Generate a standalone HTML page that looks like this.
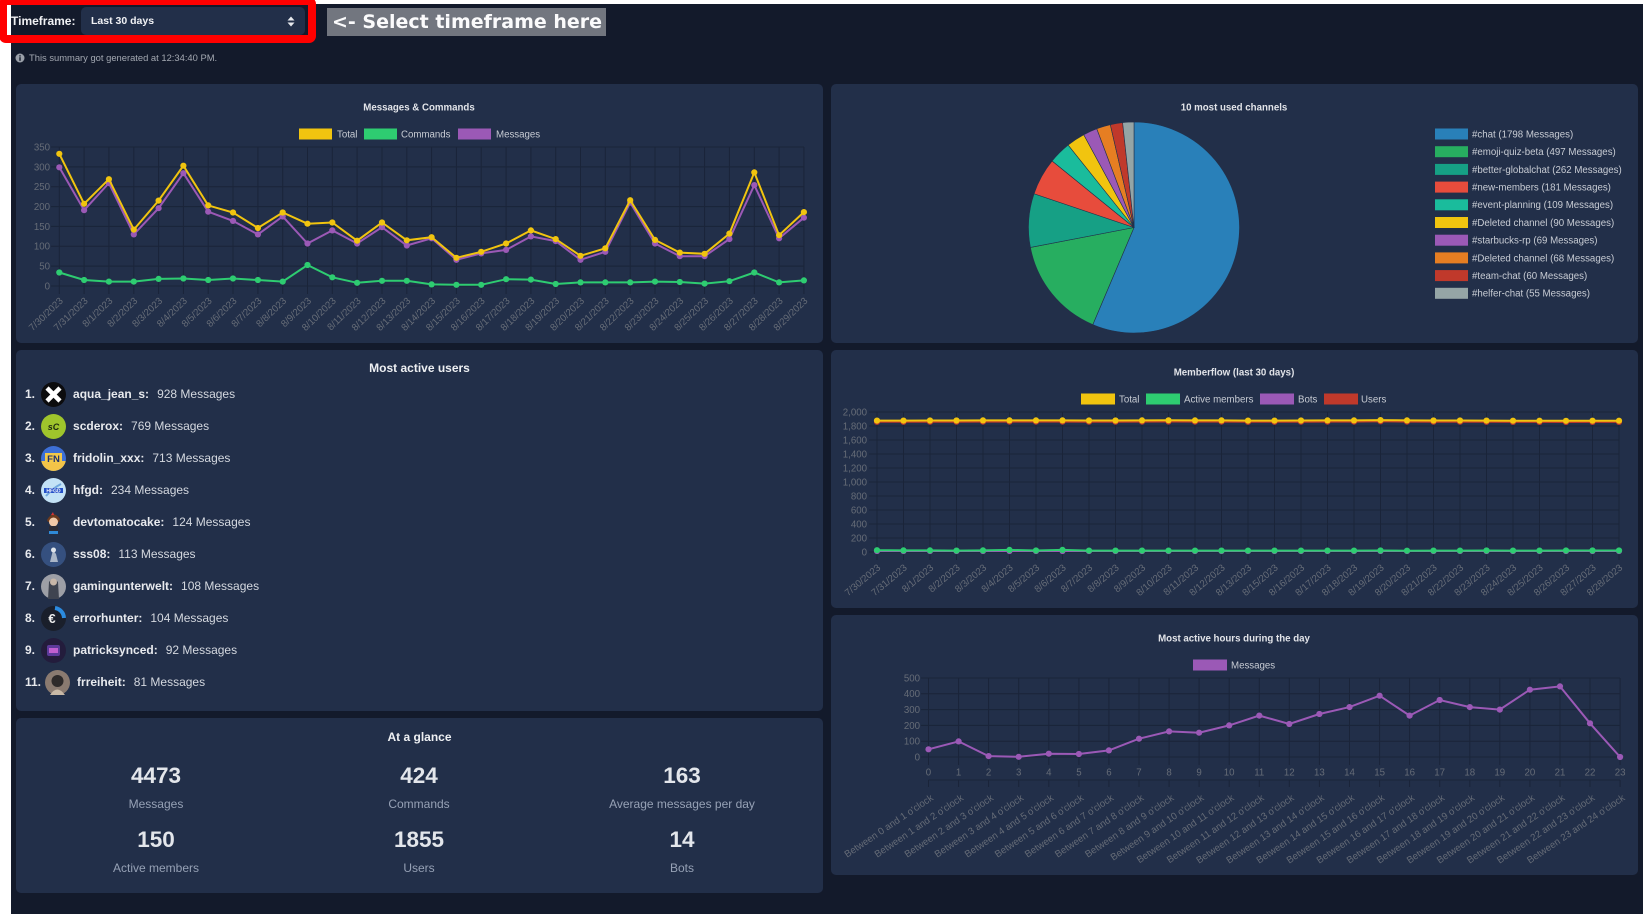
<!DOCTYPE html>
<html><head><meta charset="utf-8">
<style>
*{margin:0;padding:0;box-sizing:border-box}
html,body{width:1643px;height:914px;overflow:hidden;background:#fff;font-family:"Liberation Sans",Arial,sans-serif}
.bg{position:absolute;left:11px;top:4px;width:1632px;height:910px;background:#131a2b}
.panel{position:absolute;background:#222f49;border-radius:5px}
.abs{position:absolute}
.row{position:absolute;left:25px;height:26px;display:flex;align-items:center;font-size:12px;color:#e8eaee;white-space:nowrap}
.row b{font-weight:bold}
.row .rk{margin-right:6px}
.row svg{margin-right:7px;flex:none}
.row .ct{margin-left:8px;color:#d4d8df}
.gn{position:absolute;width:263px;text-align:center;font-weight:bold;font-size:22.5px;color:#e3e6eb}
.gl{position:absolute;width:263px;text-align:center;font-size:12px;color:#96a1b5}
</style></head><body>
<div class="bg"></div>

<!-- top bar -->
<div class="abs" style="left:11px;top:13px;font-size:12px;font-weight:bold;color:#f0f1f4;line-height:16px">Timeframe:</div>
<div class="abs" style="left:81px;top:7px;width:224px;height:28px;background:#222f49;border-radius:5px"></div>
<div class="abs" style="left:91px;top:14px;font-size:10.5px;font-weight:bold;color:#f0f1f4;line-height:14px">Last 30 days</div>
<svg class="abs" style="left:286px;top:15px" width="10" height="13"><path d="M1.5 5.5L5 1.5L8.5 5.5Z M1.5 7.5L5 11.5L8.5 7.5Z" fill="#e8eaee"/></svg>
<div class="abs" style="left:-1px;top:-3px;width:317px;height:46px;border:8px solid #ff0000;border-radius:7px"></div>
<div class="abs" style="left:327px;top:8px;width:279px;height:28px;background:#72767f"></div>
<div class="abs" style="left:332px;top:9px;font-family:'DejaVu Sans',sans-serif;font-weight:bold;font-size:19px;line-height:26px;color:#fbfbfc;white-space:nowrap">&lt;- Select timeframe here</div>
<svg class="abs" style="left:15px;top:53px" width="10" height="10"><circle cx="5" cy="5" r="4.5" fill="#9aa0a9"/><rect x="4.3" y="4.2" width="1.4" height="3.6" fill="#131a2b"/><rect x="4.3" y="2.2" width="1.4" height="1.3" fill="#131a2b"/></svg>
<div class="abs" style="left:29px;top:52px;font-size:9.4px;color:#a3a8b1;line-height:12px;white-space:nowrap">This summary got generated at 12:34:40 PM.</div>

<!-- panels -->
<div class="panel" style="left:16px;top:84px;width:807px;height:259px"></div>
<div class="panel" style="left:831px;top:84px;width:807px;height:259px"></div>
<div class="panel" style="left:16px;top:350px;width:807px;height:361px"></div>
<div class="panel" style="left:831px;top:350px;width:807px;height:258px"></div>
<div class="panel" style="left:831px;top:615px;width:807px;height:260px"></div>
<div class="panel" style="left:16px;top:718px;width:807px;height:175px"></div>

<!-- users -->
<div class="abs" style="left:16px;width:807px;top:361px;text-align:center;font-size:12px;font-weight:bold;color:#eef0f3">Most active users</div>

<div class="row" style="top:381px"><b class="rk">1.</b><svg width="25" height="25"><circle cx="12.5" cy="12.5" r="12.5" fill="#0c0c0e"/><path d="M6 6L19 19M19 6L6 19" stroke="#fff" stroke-width="4.5"/></svg><b>aqua_jean_s:</b><span class="ct">928 Messages</span></div>
<div class="row" style="top:413px"><b class="rk">2.</b><svg width="25" height="25"><circle cx="12.5" cy="12.5" r="12.5" fill="#9fc52c"/><text x="12.5" y="16" text-anchor="middle" font-size="9" font-weight="bold" font-style="italic" fill="#1d2a10">sC</text></svg><b>scderox:</b><span class="ct">769 Messages</span></div>
<div class="row" style="top:445px"><b class="rk">3.</b><svg width="25" height="25"><clipPath id="c3"><circle cx="12.5" cy="12.5" r="12.5"/></clipPath><g clip-path="url(#c3)"><rect width="25" height="25" fill="#3d6fd6"/><rect y="15" width="25" height="10" fill="#f3c448"/><rect x="4" y="7" width="17" height="10" fill="#f2c84a"/></g><text x="12.5" y="16" text-anchor="middle" font-size="9.5" font-weight="bold" fill="#1f3070">FN</text></svg><b>fridolin_xxx:</b><span class="ct">713 Messages</span></div>
<div class="row" style="top:477px"><b class="rk">4.</b><svg width="25" height="25"><circle cx="12.5" cy="12.5" r="12.5" fill="#c3e2f6"/><path d="M5 18Q12 10 20 6" stroke="#6fa7dd" stroke-width="2" fill="none"/><rect x="3" y="10" width="19" height="5" fill="#2350c8"/><text x="12.5" y="14.3" text-anchor="middle" font-size="5" font-weight="bold" fill="#fff">HFGD</text></svg><b>hfgd:</b><span class="ct">234 Messages</span></div>
<div class="row" style="top:509px"><b class="rk">5.</b><svg width="25" height="25"><path d="M6 10Q12 -1 19 9L18 12L7 12Z" fill="#6b3a1e"/><circle cx="12.5" cy="12" r="4.5" fill="#f1c9a8"/><path d="M8 16H17V21H8Z" fill="#2b2b35"/><path d="M8 21H17V24H8Z" fill="#2f8ad8"/><path d="M10 5L12 2L13 5Z" fill="#d33"/></svg><b>devtomatocake:</b><span class="ct">124 Messages</span></div>
<div class="row" style="top:541px"><b class="rk">6.</b><svg width="25" height="25"><circle cx="12.5" cy="12.5" r="12.5" fill="#35507f"/><path d="M9 20L12 8L15 12L17 20Z" fill="#aab6c8"/><circle cx="12.5" cy="8" r="2.5" fill="#dfe4ea"/></svg><b>sss08:</b><span class="ct">113 Messages</span></div>
<div class="row" style="top:573px"><b class="rk">7.</b><svg width="25" height="25"><circle cx="12.5" cy="12.5" r="12.5" fill="#9d9fa6"/><path d="M7 25L8 8Q12 3 17 8L18 25Z" fill="#3f4450"/><circle cx="12.5" cy="8" r="3.5" fill="#c8b7a8"/></svg><b>gamingunterwelt:</b><span class="ct">108 Messages</span></div>
<div class="row" style="top:605px"><b class="rk">8.</b><svg width="25" height="25"><circle cx="12.5" cy="12.5" r="12.5" fill="#1a1f2b"/><path d="M14 2A10.5 10.5 0 0 1 23 12" stroke="#2b8be0" stroke-width="4" fill="none"/><text x="11" y="17" text-anchor="middle" font-size="13" font-weight="bold" fill="#eee">€</text></svg><b>errorhunter:</b><span class="ct">104 Messages</span></div>
<div class="row" style="top:637px"><b class="rk">9.</b><svg width="25" height="25"><circle cx="12.5" cy="12.5" r="12.5" fill="#231c3c"/><rect x="6" y="7" width="13" height="11" rx="2" fill="#5c3a9a"/><rect x="8" y="10" width="9" height="5" fill="#c15fd0"/></svg><b>patricksynced:</b><span class="ct">92 Messages</span></div>
<div class="row" style="top:669px"><b class="rk" style="margin-right:4px">11.</b><svg width="25" height="25"><circle cx="12.5" cy="12.5" r="12.5" fill="#8a7a70"/><circle cx="12.5" cy="11" r="6" fill="#2e2a2a"/><path d="M5 25Q12 14 20 25Z" fill="#c9b9a6"/></svg><b>frreiheit:</b><span class="ct">81 Messages</span></div>

<!-- at a glance -->
<div class="abs" style="left:16px;width:807px;top:730px;text-align:center;font-size:12px;font-weight:bold;color:#eef0f3">At a glance</div>
<div class="gn" style="left:24.5px;top:763px">4473</div>
<div class="gn" style="left:287.5px;top:763px">424</div>
<div class="gn" style="left:550.5px;top:763px">163</div>
<div class="gl" style="left:24.5px;top:797px">Messages</div>
<div class="gl" style="left:287.5px;top:797px">Commands</div>
<div class="gl" style="left:550.5px;top:797px">Average messages per day</div>
<div class="gn" style="left:24.5px;top:827px">150</div>
<div class="gn" style="left:287.5px;top:827px">1855</div>
<div class="gn" style="left:550.5px;top:827px">14</div>
<div class="gl" style="left:24.5px;top:861px">Active members</div>
<div class="gl" style="left:287.5px;top:861px">Users</div>
<div class="gl" style="left:550.5px;top:861px">Bots</div>

<svg class="abs" style="left:0;top:0" width="1643" height="914" font-family="Liberation Sans, Arial, sans-serif" font-size="9.7">
<defs>
<marker id="mY" markerWidth="8" markerHeight="8" refX="4" refY="4" markerUnits="userSpaceOnUse"><circle cx="4" cy="4" r="3.1" fill="#f1c40f"/></marker>
<marker id="mG" markerWidth="8" markerHeight="8" refX="4" refY="4" markerUnits="userSpaceOnUse"><circle cx="4" cy="4" r="3.1" fill="#2ecc71"/></marker>
<marker id="mP" markerWidth="8" markerHeight="8" refX="4" refY="4" markerUnits="userSpaceOnUse"><circle cx="4" cy="4" r="3.1" fill="#9b59b6"/></marker>
<marker id="mR" markerWidth="8" markerHeight="8" refX="4" refY="4" markerUnits="userSpaceOnUse"><circle cx="4" cy="4" r="3.1" fill="#c0392b"/></marker>
</defs>

<!-- ===== Chart 1 ===== -->
<text x="419" y="107" dy="0.35em" text-anchor="middle" font-weight="bold" fill="#e2e4e9">Messages &amp; Commands</text>
<rect x="299" y="128.5" width="33" height="11" fill="#f1c40f"/><text x="337" y="134" dy="0.35em" fill="#c8ccd4">Total</text>
<rect x="364" y="128.5" width="33" height="11" fill="#2ecc71"/><text x="401" y="134" dy="0.35em" fill="#c8ccd4">Commands</text>
<rect x="458" y="128.5" width="33" height="11" fill="#9b59b6"/><text x="496" y="134" dy="0.35em" fill="#c8ccd4">Messages</text>
<path stroke="#1a2439" stroke-width="1" fill="none" d="M51 286H804M51 266.1H804M51 246.3H804M51 226.4H804M51 206.6H804M51 186.7H804M51 166.9H804M51 147H804
M59.3 147V294M84.1 147V294M108.9 147V294M133.8 147V294M158.6 147V294M183.4 147V294M208.2 147V294M233 147V294M257.9 147V294M282.7 147V294M307.5 147V294M332.3 147V294M357.1 147V294M382 147V294M406.8 147V294M431.6 147V294M456.4 147V294M481.2 147V294M506.1 147V294M530.9 147V294M555.7 147V294M580.5 147V294M605.3 147V294M630.2 147V294M655 147V294M679.8 147V294M704.6 147V294M729.4 147V294M754.3 147V294M779.1 147V294M803.9 147V294"/>
<g fill="#666c77" text-anchor="end">
<text x="50" y="286" dy="0.35em">0</text><text x="50" y="266.1" dy="0.35em">50</text><text x="50" y="246.3" dy="0.35em">100</text><text x="50" y="226.4" dy="0.35em">150</text><text x="50" y="206.6" dy="0.35em">200</text><text x="50" y="186.7" dy="0.35em">250</text><text x="50" y="166.9" dy="0.35em">300</text><text x="50" y="147" dy="0.35em">350</text>
</g>
<g fill="#666c77" text-anchor="end">
<text transform="translate(61.3,299) rotate(-44)" dy="0.35em">7/30/2023</text>
<text transform="translate(86.1,299) rotate(-44)" dy="0.35em">7/31/2023</text>
<text transform="translate(110.9,299) rotate(-44)" dy="0.35em">8/1/2023</text>
<text transform="translate(135.8,299) rotate(-44)" dy="0.35em">8/2/2023</text>
<text transform="translate(160.6,299) rotate(-44)" dy="0.35em">8/3/2023</text>
<text transform="translate(185.4,299) rotate(-44)" dy="0.35em">8/4/2023</text>
<text transform="translate(210.2,299) rotate(-44)" dy="0.35em">8/5/2023</text>
<text transform="translate(235,299) rotate(-44)" dy="0.35em">8/6/2023</text>
<text transform="translate(259.9,299) rotate(-44)" dy="0.35em">8/7/2023</text>
<text transform="translate(284.7,299) rotate(-44)" dy="0.35em">8/8/2023</text>
<text transform="translate(309.5,299) rotate(-44)" dy="0.35em">8/9/2023</text>
<text transform="translate(334.3,299) rotate(-44)" dy="0.35em">8/10/2023</text>
<text transform="translate(359.1,299) rotate(-44)" dy="0.35em">8/11/2023</text>
<text transform="translate(384,299) rotate(-44)" dy="0.35em">8/12/2023</text>
<text transform="translate(408.8,299) rotate(-44)" dy="0.35em">8/13/2023</text>
<text transform="translate(433.6,299) rotate(-44)" dy="0.35em">8/14/2023</text>
<text transform="translate(458.4,299) rotate(-44)" dy="0.35em">8/15/2023</text>
<text transform="translate(483.2,299) rotate(-44)" dy="0.35em">8/16/2023</text>
<text transform="translate(508.1,299) rotate(-44)" dy="0.35em">8/17/2023</text>
<text transform="translate(532.9,299) rotate(-44)" dy="0.35em">8/18/2023</text>
<text transform="translate(557.7,299) rotate(-44)" dy="0.35em">8/19/2023</text>
<text transform="translate(582.5,299) rotate(-44)" dy="0.35em">8/20/2023</text>
<text transform="translate(607.3,299) rotate(-44)" dy="0.35em">8/21/2023</text>
<text transform="translate(632.2,299) rotate(-44)" dy="0.35em">8/22/2023</text>
<text transform="translate(657,299) rotate(-44)" dy="0.35em">8/23/2023</text>
<text transform="translate(681.8,299) rotate(-44)" dy="0.35em">8/24/2023</text>
<text transform="translate(706.6,299) rotate(-44)" dy="0.35em">8/25/2023</text>
<text transform="translate(731.4,299) rotate(-44)" dy="0.35em">8/26/2023</text>
<text transform="translate(756.3,299) rotate(-44)" dy="0.35em">8/27/2023</text>
<text transform="translate(781.1,299) rotate(-44)" dy="0.35em">8/28/2023</text>
<text transform="translate(805.9,299) rotate(-44)" dy="0.35em">8/29/2023</text>
</g>
<polyline fill="none" stroke="#9b59b6" stroke-width="2" marker-start="url(#mP)" marker-mid="url(#mP)" marker-end="url(#mP)" points="59.3,167.3 84.1,210.2 108.9,183.1 133.8,234.4 158.6,208.2 183.4,173.2 208.2,211.7 233.0,220.9 257.9,234.4 282.7,216.5 307.5,243.5 332.3,230.4 357.1,243.5 382.0,227.2 406.8,245.5 431.6,238.3 456.4,259.8 481.2,253.4 506.1,249.9 530.9,236.4 555.7,241.1 580.5,259.8 605.3,251.8 630.2,202.6 655.0,243.5 679.8,256.2 704.6,256.2 729.4,239.1 754.3,185.1 779.1,238.3 803.9,217.7"/>
<polyline fill="none" stroke="#2ecc71" stroke-width="2" marker-start="url(#mG)" marker-mid="url(#mG)" marker-end="url(#mG)" points="59.3,272.5 84.1,280.0 108.9,281.6 133.8,281.6 158.6,278.9 183.4,278.5 208.2,280.0 233.0,278.5 257.9,280.0 282.7,281.6 307.5,265.0 332.3,277.3 357.1,282.8 382.0,280.8 406.8,280.8 431.6,284.4 456.4,284.8 481.2,284.8 506.1,279.2 530.9,279.6 555.7,284.0 580.5,282.4 605.3,282.4 630.2,282.4 655.0,281.6 679.8,282.0 704.6,283.6 729.4,281.2 754.3,272.5 779.1,282.4 803.9,280.4"/>
<polyline fill="none" stroke="#f1c40f" stroke-width="2" marker-start="url(#mY)" marker-mid="url(#mY)" marker-end="url(#mY)" points="59.3,153.8 84.1,203.8 108.9,179.2 133.8,229.6 158.6,200.6 183.4,165.7 208.2,205.4 233.0,212.5 257.9,228.0 282.7,212.5 307.5,223.7 332.3,222.5 357.1,240.7 382.0,222.5 406.8,240.3 431.6,237.2 456.4,257.8 481.2,251.8 506.1,243.5 530.9,230.4 555.7,239.1 580.5,255.8 605.3,248.3 630.2,200.2 655.0,239.9 679.8,252.6 704.6,253.8 729.4,233.6 754.3,172.4 779.1,235.2 803.9,212.1"/>

<!-- ===== Pie ===== -->
<text x="1234" y="107" dy="0.35em" text-anchor="middle" font-weight="bold" fill="#e2e4e9">10 most used channels</text>
<g stroke="#22304a" stroke-width="0.6" stroke-linejoin="round">
<path d="M1134 227.5L1134 122A105.5 105.5 0 1 1 1092.81 324.62Z" fill="#2980b9"/>
<path d="M1134 227.5L1092.81 324.62A105.5 105.5 0 0 1 1030.41 247.47Z" fill="#27ae60"/>
<path d="M1134 227.5L1030.41 247.47A105.5 105.5 0 0 1 1034.05 193.73Z" fill="#16a085"/>
<path d="M1134 227.5L1034.05 193.73A105.5 105.5 0 0 1 1052.13 160.96Z" fill="#e74c3c"/>
<path d="M1134 227.5L1052.13 160.96A105.5 105.5 0 0 1 1068.18 145.05Z" fill="#1abc9c"/>
<path d="M1134 227.5L1068.18 145.05A105.5 105.5 0 0 1 1083.75 134.73Z" fill="#f1c40f"/>
<path d="M1134 227.5L1083.75 134.73A105.5 105.5 0 0 1 1096.79 128.78Z" fill="#9b59b6"/>
<path d="M1134 227.5L1096.79 128.78A105.5 105.5 0 0 1 1110.32 124.69Z" fill="#e67e22"/>
<path d="M1134 227.5L1110.32 124.69A105.5 105.5 0 0 1 1122.61 122.61Z" fill="#c0392b"/>
<path d="M1134 227.5L1122.61 122.61A105.5 105.5 0 0 1 1134 122Z" fill="#95a5a6"/>
</g>
<g fill="#c8ccd4">
<rect x="1435" y="128.5" width="33" height="11" fill="#2980b9"/><text x="1472" y="134" dy="0.35em">#chat (1798 Messages)</text>
<rect x="1435" y="146.2" width="33" height="11" fill="#27ae60"/><text x="1472" y="151.7" dy="0.35em">#emoji-quiz-beta (497 Messages)</text>
<rect x="1435" y="163.9" width="33" height="11" fill="#16a085"/><text x="1472" y="169.4" dy="0.35em">#better-globalchat (262 Messages)</text>
<rect x="1435" y="181.6" width="33" height="11" fill="#e74c3c"/><text x="1472" y="187.1" dy="0.35em">#new-members (181 Messages)</text>
<rect x="1435" y="199.3" width="33" height="11" fill="#1abc9c"/><text x="1472" y="204.8" dy="0.35em">#event-planning (109 Messages)</text>
<rect x="1435" y="217" width="33" height="11" fill="#f1c40f"/><text x="1472" y="222.5" dy="0.35em">#Deleted channel (90 Messages)</text>
<rect x="1435" y="234.7" width="33" height="11" fill="#9b59b6"/><text x="1472" y="240.2" dy="0.35em">#starbucks-rp (69 Messages)</text>
<rect x="1435" y="252.4" width="33" height="11" fill="#e67e22"/><text x="1472" y="257.9" dy="0.35em">#Deleted channel (68 Messages)</text>
<rect x="1435" y="270.1" width="33" height="11" fill="#c0392b"/><text x="1472" y="275.6" dy="0.35em">#team-chat (60 Messages)</text>
<rect x="1435" y="287.8" width="33" height="11" fill="#95a5a6"/><text x="1472" y="293.3" dy="0.35em">#helfer-chat (55 Messages)</text>
</g>

<!-- ===== Memberflow ===== -->
<text x="1234" y="372" dy="0.35em" text-anchor="middle" font-weight="bold" fill="#e2e4e9">Memberflow (last 30 days)</text>
<rect x="1081" y="393.5" width="34" height="11" fill="#f1c40f"/><text x="1119" y="399" dy="0.35em" fill="#c8ccd4">Total</text>
<rect x="1146" y="393.5" width="34" height="11" fill="#2ecc71"/><text x="1184" y="399" dy="0.35em" fill="#c8ccd4">Active members</text>
<rect x="1260" y="393.5" width="34" height="11" fill="#9b59b6"/><text x="1298" y="399" dy="0.35em" fill="#c8ccd4">Bots</text>
<rect x="1324" y="393.5" width="34" height="11" fill="#c0392b"/><text x="1361" y="399" dy="0.35em" fill="#c8ccd4">Users</text>
<path stroke="#1a2439" stroke-width="1" fill="none" d="M869 552H1619M869 538H1619M869 524H1619M869 510H1619M869 496H1619M869 482H1619M869 468H1619M869 454H1619M869 440H1619M869 426H1619M869 412H1619
M877 412V560M903.5 412V560M930 412V560M956.5 412V560M983 412V560M1009.5 412V560M1036 412V560M1062.5 412V560M1089 412V560M1115.5 412V560M1142 412V560M1168.5 412V560M1195 412V560M1221.5 412V560M1248 412V560M1274.5 412V560M1301 412V560M1327.5 412V560M1354 412V560M1380.5 412V560M1407 412V560M1433.5 412V560M1460 412V560M1486.5 412V560M1513 412V560M1539.5 412V560M1566 412V560M1592.5 412V560M1619 412V560"/>
<g fill="#666c77" text-anchor="end">
<text x="867" y="552" dy="0.35em">0</text><text x="867" y="538" dy="0.35em">200</text><text x="867" y="524" dy="0.35em">400</text><text x="867" y="510" dy="0.35em">600</text><text x="867" y="496" dy="0.35em">800</text><text x="867" y="482" dy="0.35em">1,000</text><text x="867" y="468" dy="0.35em">1,200</text><text x="867" y="454" dy="0.35em">1,400</text><text x="867" y="440" dy="0.35em">1,600</text><text x="867" y="426" dy="0.35em">1,800</text><text x="867" y="412" dy="0.35em">2,000</text>
</g>
<g fill="#666c77" text-anchor="end">
<text transform="translate(879,566) rotate(-40)" dy="0.35em">7/30/2023</text>
<text transform="translate(905.5,566) rotate(-40)" dy="0.35em">7/31/2023</text>
<text transform="translate(932,566) rotate(-40)" dy="0.35em">8/1/2023</text>
<text transform="translate(958.5,566) rotate(-40)" dy="0.35em">8/2/2023</text>
<text transform="translate(985,566) rotate(-40)" dy="0.35em">8/3/2023</text>
<text transform="translate(1011.5,566) rotate(-40)" dy="0.35em">8/4/2023</text>
<text transform="translate(1038,566) rotate(-40)" dy="0.35em">8/5/2023</text>
<text transform="translate(1064.5,566) rotate(-40)" dy="0.35em">8/6/2023</text>
<text transform="translate(1091,566) rotate(-40)" dy="0.35em">8/7/2023</text>
<text transform="translate(1117.5,566) rotate(-40)" dy="0.35em">8/8/2023</text>
<text transform="translate(1144,566) rotate(-40)" dy="0.35em">8/9/2023</text>
<text transform="translate(1170.5,566) rotate(-40)" dy="0.35em">8/10/2023</text>
<text transform="translate(1197,566) rotate(-40)" dy="0.35em">8/11/2023</text>
<text transform="translate(1223.5,566) rotate(-40)" dy="0.35em">8/12/2023</text>
<text transform="translate(1250,566) rotate(-40)" dy="0.35em">8/13/2023</text>
<text transform="translate(1276.5,566) rotate(-40)" dy="0.35em">8/15/2023</text>
<text transform="translate(1303,566) rotate(-40)" dy="0.35em">8/16/2023</text>
<text transform="translate(1329.5,566) rotate(-40)" dy="0.35em">8/17/2023</text>
<text transform="translate(1356,566) rotate(-40)" dy="0.35em">8/18/2023</text>
<text transform="translate(1382.5,566) rotate(-40)" dy="0.35em">8/19/2023</text>
<text transform="translate(1409,566) rotate(-40)" dy="0.35em">8/20/2023</text>
<text transform="translate(1435.5,566) rotate(-40)" dy="0.35em">8/21/2023</text>
<text transform="translate(1462,566) rotate(-40)" dy="0.35em">8/22/2023</text>
<text transform="translate(1488.5,566) rotate(-40)" dy="0.35em">8/23/2023</text>
<text transform="translate(1515,566) rotate(-40)" dy="0.35em">8/24/2023</text>
<text transform="translate(1541.5,566) rotate(-40)" dy="0.35em">8/25/2023</text>
<text transform="translate(1568,566) rotate(-40)" dy="0.35em">8/26/2023</text>
<text transform="translate(1594.5,566) rotate(-40)" dy="0.35em">8/27/2023</text>
<text transform="translate(1621,566) rotate(-40)" dy="0.35em">8/28/2023</text>
</g>
<polyline fill="none" stroke="#c0392b" stroke-width="2" marker-start="url(#mR)" marker-mid="url(#mR)" marker-end="url(#mR)" points="877,421.8 903.5,421.8 930,421.7 956.5,421.7 983,421.6 1009.5,421.6 1036,421.6 1062.5,421.6 1089,421.7 1115.5,421.7 1142,421.6 1168.5,421.5 1195,421.6 1221.5,421.6 1248,421.8 1274.5,421.8 1301,421.7 1327.5,421.6 1354,421.6 1380.5,421.3 1407,421.6 1433.5,421.7 1460,421.7 1486.5,421.8 1513,421.9 1539.5,421.9 1566,422 1592.5,421.9 1619,421.9"/>
<polyline fill="none" stroke="#9b59b6" stroke-width="2" marker-start="url(#mP)" marker-mid="url(#mP)" marker-end="url(#mP)" points="877,551 903.5,551 930,551 956.5,551 983,551 1009.5,551 1036,551 1062.5,551 1089,551 1115.5,551 1142,551 1168.5,551 1195,551 1221.5,551 1248,551 1274.5,551 1301,551 1327.5,551 1354,551 1380.5,551 1407,551 1433.5,551 1460,551 1486.5,551 1513,551 1539.5,551 1566,551 1592.5,551 1619,551"/>
<polyline fill="none" stroke="#2ecc71" stroke-width="2" marker-start="url(#mG)" marker-mid="url(#mG)" marker-end="url(#mG)" points="877,550.2 903.5,550.4 930,550.4 956.5,550.6 983,550.4 1009.5,549.9 1036,550.5 1062.5,549.9 1089,550.6 1115.5,550.6 1142,550.6 1168.5,550.6 1195,550.6 1221.5,550.6 1248,550.6 1274.5,550.6 1301,550.6 1327.5,550.6 1354,550.6 1380.5,550.5 1407,550.7 1433.5,550.6 1460,550.6 1486.5,550.5 1513,550.6 1539.5,550.6 1566,550.5 1592.5,550.5 1619,550.5"/>
<polyline fill="none" stroke="#f1c40f" stroke-width="2" marker-start="url(#mY)" marker-mid="url(#mY)" marker-end="url(#mY)" points="877,420.6 903.5,420.6 930,420.5 956.5,420.5 983,420.4 1009.5,420.4 1036,420.4 1062.5,420.4 1089,420.5 1115.5,420.5 1142,420.4 1168.5,420.3 1195,420.4 1221.5,420.4 1248,420.6 1274.5,420.6 1301,420.5 1327.5,420.4 1354,420.4 1380.5,420.1 1407,420.4 1433.5,420.5 1460,420.5 1486.5,420.6 1513,420.7 1539.5,420.7 1566,420.8 1592.5,420.7 1619,420.7"/>

<!-- ===== Hours ===== -->
<text x="1234" y="638" dy="0.35em" text-anchor="middle" font-weight="bold" fill="#e2e4e9">Most active hours during the day</text>
<rect x="1193" y="659.5" width="34" height="11" fill="#9b59b6"/><text x="1231" y="665" dy="0.35em" fill="#c8ccd4">Messages</text>
<path stroke="#1a2439" stroke-width="1" fill="none" d="M921 757H1620M921 741.2H1620M921 725.4H1620M921 709.6H1620M921 693.8H1620M921 678H1620M928.5 780H1620
M928.5 678V765M958.6 678V765M988.6 678V765M1018.7 678V765M1048.8 678V765M1078.9 678V765M1108.9 678V765M1139 678V765M1169.1 678V765M1199.1 678V765M1229.2 678V765M1259.3 678V765M1289.3 678V765M1319.4 678V765M1349.5 678V765M1379.6 678V765M1409.6 678V765M1439.7 678V765M1469.8 678V765M1499.8 678V765M1529.9 678V765M1560 678V765M1590 678V765M1620.1 678V765
M928.5 780V787M958.6 780V787M988.6 780V787M1018.7 780V787M1048.8 780V787M1078.9 780V787M1108.9 780V787M1139 780V787M1169.1 780V787M1199.1 780V787M1229.2 780V787M1259.3 780V787M1289.3 780V787M1319.4 780V787M1349.5 780V787M1379.6 780V787M1409.6 780V787M1439.7 780V787M1469.8 780V787M1499.8 780V787M1529.9 780V787M1560 780V787M1590 780V787M1620.1 780V787"/>
<g fill="#666c77" text-anchor="end">
<text x="920" y="757" dy="0.35em">0</text><text x="920" y="741.2" dy="0.35em">100</text><text x="920" y="725.4" dy="0.35em">200</text><text x="920" y="709.6" dy="0.35em">300</text><text x="920" y="693.8" dy="0.35em">400</text><text x="920" y="678" dy="0.35em">500</text>
</g>
<g fill="#666c77" text-anchor="middle">
<text x="928.5" y="772" dy="0.35em">0</text><text x="958.6" y="772" dy="0.35em">1</text><text x="988.6" y="772" dy="0.35em">2</text><text x="1018.7" y="772" dy="0.35em">3</text><text x="1048.8" y="772" dy="0.35em">4</text><text x="1078.9" y="772" dy="0.35em">5</text><text x="1108.9" y="772" dy="0.35em">6</text><text x="1139" y="772" dy="0.35em">7</text><text x="1169.1" y="772" dy="0.35em">8</text><text x="1199.1" y="772" dy="0.35em">9</text><text x="1229.2" y="772" dy="0.35em">10</text><text x="1259.3" y="772" dy="0.35em">11</text><text x="1289.3" y="772" dy="0.35em">12</text><text x="1319.4" y="772" dy="0.35em">13</text><text x="1349.5" y="772" dy="0.35em">14</text><text x="1379.6" y="772" dy="0.35em">15</text><text x="1409.6" y="772" dy="0.35em">16</text><text x="1439.7" y="772" dy="0.35em">17</text><text x="1469.8" y="772" dy="0.35em">18</text><text x="1499.8" y="772" dy="0.35em">19</text><text x="1529.9" y="772" dy="0.35em">20</text><text x="1560" y="772" dy="0.35em">21</text><text x="1590" y="772" dy="0.35em">22</text><text x="1620.1" y="772" dy="0.35em">23</text>
</g>
<g fill="#666c77" text-anchor="end">
<text transform="translate(932,796.5) rotate(-34)" dy="0.35em">Between 0 and 1 o'clock</text>
<text transform="translate(962.1,796.5) rotate(-34)" dy="0.35em">Between 1 and 2 o'clock</text>
<text transform="translate(992.1,796.5) rotate(-34)" dy="0.35em">Between 2 and 3 o'clock</text>
<text transform="translate(1022.2,796.5) rotate(-34)" dy="0.35em">Between 3 and 4 o'clock</text>
<text transform="translate(1052.3,796.5) rotate(-34)" dy="0.35em">Between 4 and 5 o'clock</text>
<text transform="translate(1082.4,796.5) rotate(-34)" dy="0.35em">Between 5 and 6 o'clock</text>
<text transform="translate(1112.4,796.5) rotate(-34)" dy="0.35em">Between 6 and 7 o'clock</text>
<text transform="translate(1142.5,796.5) rotate(-34)" dy="0.35em">Between 7 and 8 o'clock</text>
<text transform="translate(1172.6,796.5) rotate(-34)" dy="0.35em">Between 8 and 9 o'clock</text>
<text transform="translate(1202.6,796.5) rotate(-34)" dy="0.35em">Between 9 and 10 o'clock</text>
<text transform="translate(1232.7,796.5) rotate(-34)" dy="0.35em">Between 10 and 11 o'clock</text>
<text transform="translate(1262.8,796.5) rotate(-34)" dy="0.35em">Between 11 and 12 o'clock</text>
<text transform="translate(1292.8,796.5) rotate(-34)" dy="0.35em">Between 12 and 13 o'clock</text>
<text transform="translate(1322.9,796.5) rotate(-34)" dy="0.35em">Between 13 and 14 o'clock</text>
<text transform="translate(1353,796.5) rotate(-34)" dy="0.35em">Between 14 and 15 o'clock</text>
<text transform="translate(1383.1,796.5) rotate(-34)" dy="0.35em">Between 15 and 16 o'clock</text>
<text transform="translate(1413.1,796.5) rotate(-34)" dy="0.35em">Between 16 and 17 o'clock</text>
<text transform="translate(1443.2,796.5) rotate(-34)" dy="0.35em">Between 17 and 18 o'clock</text>
<text transform="translate(1473.3,796.5) rotate(-34)" dy="0.35em">Between 18 and 19 o'clock</text>
<text transform="translate(1503.3,796.5) rotate(-34)" dy="0.35em">Between 19 and 20 o'clock</text>
<text transform="translate(1533.4,796.5) rotate(-34)" dy="0.35em">Between 20 and 21 o'clock</text>
<text transform="translate(1563.5,796.5) rotate(-34)" dy="0.35em">Between 21 and 22 o'clock</text>
<text transform="translate(1593.5,796.5) rotate(-34)" dy="0.35em">Between 22 and 23 o'clock</text>
<text transform="translate(1623.6,796.5) rotate(-34)" dy="0.35em">Between 23 and 24 o'clock</text>
</g>
<polyline fill="none" stroke="#9b59b6" stroke-width="2" marker-start="url(#mP)" marker-mid="url(#mP)" marker-end="url(#mP)" points="928.5,749.3 958.6,741.4 988.6,756.1 1018.7,756.8 1048.8,753.7 1078.9,754.0 1108.9,750.4 1139.0,738.7 1169.1,731.4 1199.1,732.7 1229.2,725.4 1259.3,715.6 1289.3,724.0 1319.4,714.0 1349.5,707.1 1379.6,695.7 1409.6,715.6 1439.7,700.0 1469.8,707.1 1499.8,709.6 1529.9,689.7 1560.0,686.4 1590.0,723.3 1620.1,757"/>
</svg>
</body></html>
